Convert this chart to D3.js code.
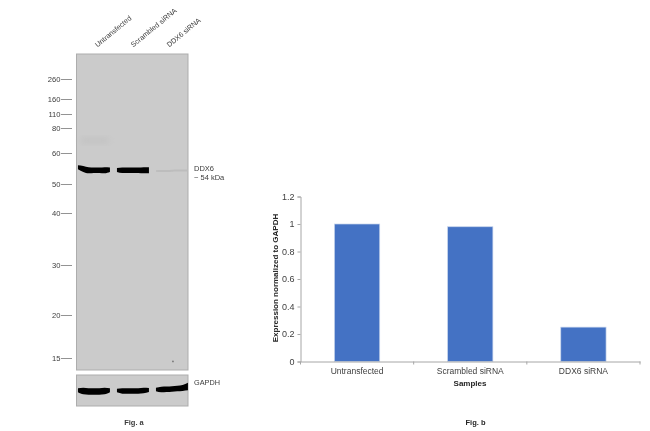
<!DOCTYPE html>
<html><head><meta charset="utf-8">
<script src="https://cdn.jsdelivr.net/npm/d3@7"></script>
<style>html,body{margin:0;padding:0;background:#fff}svg{display:block}text{font-family:"Liberation Sans",Arial,sans-serif}</style>
</head><body><svg id="c" width="650" height="431"></svg>
<script>
// Western blot data
const lanes = ["Untransfected", "Scrambled siRNA", "DDX6 siRNA"];
const markers = [260, 160, 110, 80, 60, 50, 40, 30, 20, 15];
const ddx6Kda = [54.4, 54.4, 54.2];
const ddx6Thickness = [[4, 6, 6, 5.5, 5.5, 6, 4.5], [4, 5.5, 5.5, 5.5, 5.5, 6, 6], [1.5, 2, 2, 2, 2, 2, 2]];
const ddx6Rise = [[3, 1.3, 0, 0, 0, 0, 0.5], [0.3, 0, 0, 0, 0, 0, 0], [0, 0, 0, 0.3, 0.5, 0.5, 0.5]];
const ddx6Ink = ["#000", "#000", "#bdbdbd"];
const gapdhThickness = [[4, 6.5, 6.5, 6.5, 6.5, 6.5, 4], [3.5, 5.5, 5.5, 5.5, 5.5, 5.5, 4], [3.5, 5.5, 5.5, 5.5, 5.5, 6, 7.5]];
const gapdhRise = [[0.8, 0, -0.3, -0.3, -0.3, 0, 0.8], [0.5, 0.2, 0, 0, 0.2, 0.6, 1.2], [1.6, 1.6, 1.8, 2.1, 2.6, 3.2, 4.5]];
// Bar chart data
const samples = ["Untransfected", "Scrambled siRNA", "DDX6 siRNA"];
const expression = [1, 0.98, 0.25];
const yTicks = [0, 0.2, 0.4, 0.6, 0.8, 1, 1.2];

const svg = d3.select("#c");
const defs = svg.append("defs");
defs.append("filter").attr("id", "soft").attr("x", "-10%").attr("y", "-60%").attr("width", "120%").attr("height", "220%")
  .append("feGaussianBlur").attr("stdDeviation", 0.6);
defs.append("filter").attr("id", "txt").attr("x", "-5%").attr("y", "-20%").attr("width", "110%").attr("height", "140%")
  .append("feGaussianBlur").attr("stdDeviation", 0.3);
defs.append("filter").attr("id", "smear").attr("x", "-20%").attr("y", "-50%").attr("width", "140%").attr("height", "200%")
  .append("feGaussianBlur").attr("stdDeviation", 3);

const blotL = 76.5, blotR = 188;
const panel = (y, h) => svg.append("rect").attr("x", blotL).attr("y", y).attr("width", blotR - blotL).attr("height", h)
  .attr("fill", "#cbcbcb").attr("stroke", "#adadad").attr("stroke-width", 1);
panel(54, 316);
panel(375, 31);

const markerY = d3.scaleLinear().domain(markers).range([79, 99, 114, 128, 153, 184, 213, 265, 315, 358]);
const laneX = d3.scaleBand().domain(lanes).range([76.4, 189.5]).paddingInner(0.18).paddingOuter(0.04);
const labelX = d3.scalePoint().domain(lanes).range([97.5, 169.2]);
const t = d3.scaleLinear().domain([0, 6]);

function band(i, cy, thick, rise, fill) {
  const x = t.copy().range([laneX(lanes[i]), laneX(lanes[i]) + laneX.bandwidth()]);
  const area = d3.area().curve(d3.curveMonotoneX)
    .x((d, j) => x(j))
    .y0((d, j) => cy - rise[j] - thick[j] / 2)
    .y1((d, j) => cy - rise[j] + thick[j] / 2);
  svg.append("path").attr("d", area(thick)).attr("fill", fill).attr("filter", "url(#soft)");
}

// faint smear above main band in lane 1
svg.append("rect").attr("x", laneX(lanes[0]) + 3).attr("y", markerY(72)).attr("width", laneX.bandwidth() - 4).attr("height", 5)
  .attr("fill", "#c1c1c1").attr("filter", "url(#smear)");

lanes.forEach((l, i) => band(i, markerY(ddx6Kda[i]), ddx6Thickness[i], ddx6Rise[i], ddx6Ink[i]));
const gapdhY = d3.scaleLinear().domain([0, 1]).range([375, 406]);
lanes.forEach((l, i) => band(i, gapdhY(0.52), gapdhThickness[i], gapdhRise[i], "#000"));
// speck
svg.append("circle").attr("cx", blotX(0.865)).attr("cy", markerY(14.6)).attr("r", 0.9).attr("fill", "#777");
function blotX(f) { return blotL + f * (blotR - blotL); }

const textG = svg.append("g").attr("filter", "url(#txt)").attr("fill", "#3c3c3c");
markers.forEach(m => {
  const y = markerY(m);
  textG.append("text").attr("x", 60.5).attr("y", y + 3).attr("text-anchor", "end").attr("font-size", 7.6).text(m);
  textG.append("line").attr("x1", 61).attr("x2", 72).attr("y1", y + 0.5).attr("y2", y + 0.5).attr("stroke", "#777").attr("stroke-width", 0.8);
});
lanes.forEach(l => {
  textG.append("text").attr("transform", `translate(${labelX(l)},47.5) rotate(-39.5)`).attr("font-size", 7.2).text(l);
});
textG.append("text").attr("x", 194).attr("y", 171).attr("font-size", 7.5).text("DDX6");
textG.append("text").attr("x", 194).attr("y", 180).attr("font-size", 7.5).text("~ 54 kDa");
textG.append("text").attr("x", 194).attr("y", 385).attr("font-size", 7.3).text("GAPDH");
textG.append("text").attr("x", 134).attr("y", 424.5).attr("text-anchor", "middle").attr("font-size", 7.5).attr("font-weight", "bold").text("Fig. a");

// Bar chart
const bx = d3.scaleBand().domain(samples).range([300.5, 640]).paddingInner(0.6).paddingOuter(0.3);
const by = d3.scaleLinear().domain([0, 1.2]).range([361.5, 196.5]);
svg.append("g").selectAll("rect").data(expression).join("rect")
  .attr("x", (d, i) => bx(samples[i])).attr("width", bx.bandwidth())
  .attr("y", d => by(d)).attr("height", d => by(0) - by(d))
  .attr("fill", "#4472c4").attr("stroke", "#c5d3ec").attr("stroke-width", 0.7);

const axisC = "#a6a6a6";
const yAxis = svg.append("g").attr("transform", "translate(300.5,0)")
  .call(d3.axisLeft(by).tickValues(yTicks).tickSize(3).tickFormat(d3.format("~g")));
const step = bx.step();
const xAxis = svg.append("g").attr("transform", "translate(0,361.5)")
  .call(d3.axisBottom(bx).tickSize(0).tickPadding(6));
[0, 1, 2, 3].forEach(i => xAxis.append("line").attr("x1", 300.5 + i * step).attr("x2", 300.5 + i * step).attr("y1", 0).attr("y2", 3).attr("stroke", axisC));
[yAxis, xAxis].forEach(a => {
  a.selectAll(".domain,.tick line").attr("stroke", axisC);
  a.selectAll("text").attr("fill", "#404040").attr("font-size", 8.5).attr("font-family", '"Liberation Sans",Arial,sans-serif').attr("filter", "url(#txt)");
});
yAxis.selectAll("text").attr("font-size", 9);
const lab = svg.append("g").attr("filter", "url(#txt)").attr("fill", "#262626").attr("font-weight", "bold");
lab.append("text").attr("x", 470).attr("y", 386).attr("text-anchor", "middle").attr("font-size", 8).text("Samples");
lab.append("text").attr("transform", "translate(278,278) rotate(-90)").attr("text-anchor", "middle").attr("font-size", 8).text("Expression normalized to GAPDH");
lab.append("text").attr("x", 475.5).attr("y", 425).attr("text-anchor", "middle").attr("font-size", 7.5).text("Fig. b");
</script></body></html>
